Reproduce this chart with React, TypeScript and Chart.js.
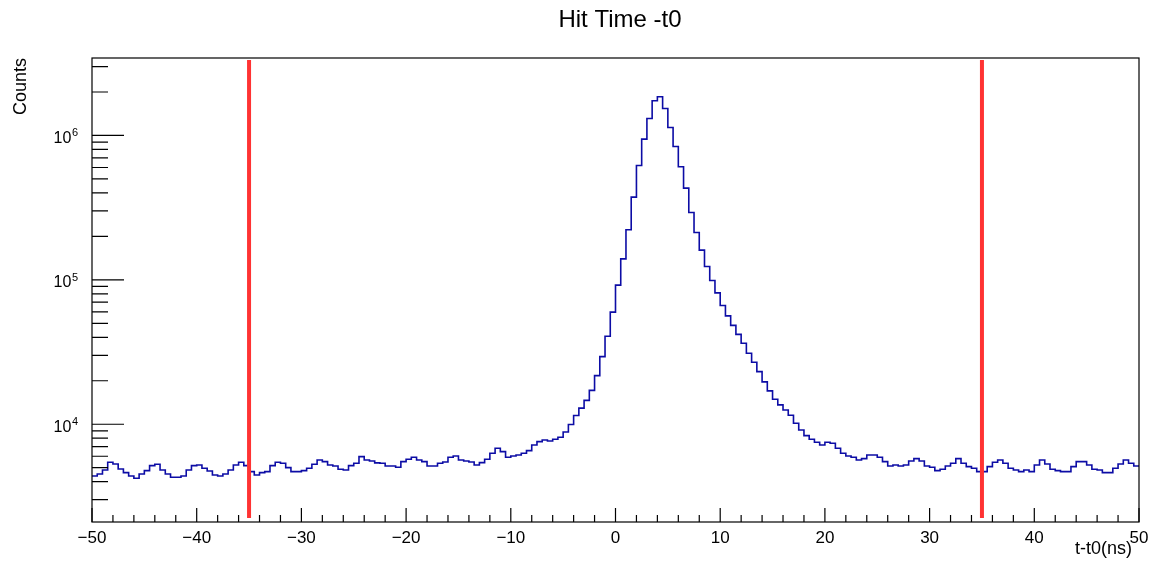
import React, { useEffect, useRef } from "react";
import { Chart, registerables } from "chart.js";

Chart.register(...registerables);

// Histogram binning (ns)
const binStart = -50;
const binWidth = 0.5;

// Counts per 0.5 ns bin, from -50 ns to +50 ns (200 bins)
const counts = [
  4383, 4522, 4822, 5452, 5306, 4900, 4620, 4383, 4222, 4522,
  4771, 5166, 5280, 4822, 4522, 4291, 4291, 4383, 4822, 5166,
  5223, 4956, 4747, 4452, 4383, 4522, 4822, 5223, 5452, 5166,
  4695, 4452, 4620, 4695, 5166, 5452, 5366, 5003, 4695, 4695,
  4771, 4956, 5280, 5657, 5505, 5223, 5141, 4877, 4822, 5166,
  5366, 5964, 5657, 5567, 5400, 5366, 5141, 5141, 5035, 5505,
  5721, 5903, 5657, 5505, 5141, 5141, 5366, 5478, 5903, 6031,
  5657, 5567, 5478, 5223, 5418, 5721, 6296, 6818, 6457, 5903,
  6031, 6127, 6296, 6565, 7187, 7577, 7785, 7660, 7872, 8126,
  8844, 9968, 11507, 12927, 14622, 17153, 21717, 29405, 40724, 59727,
  91893, 139830, 222070, 374200, 619500, 944100, 1312000, 1740000, 1854000, 1538000,
  1136000, 839000, 607000, 432000, 292700, 212700, 160700, 123700, 98900, 81260,
  66360, 56300, 48370, 41910, 36420, 31050, 26900, 23140, 19640, 17010,
  14900, 13610, 12560, 11540, 10160, 9131, 8337, 7872, 7502, 7187,
  7502, 7384, 6818, 6296, 6031, 5903, 5657, 5776, 6127, 6127,
  5903, 5505, 5141, 5223, 5141, 5223, 5567, 5776, 5567, 5141,
  5035, 4771, 4877, 5141, 5366, 5776, 5366, 5084, 4956, 4695,
  4695, 5084, 5452, 5657, 5366, 4956, 4822, 4695, 4822, 4695,
  5223, 5657, 5306, 4877, 4771, 4695, 4695, 5084, 5505, 5505,
  5223, 4877, 4822, 4620, 4620, 4956, 5306, 5657, 5366, 5141,
];

// Vertical cut markers (ns)
const cutLines = [-35, 35];

// Axis ticks
const xMajorTicks = [-50, -40, -30, -20, -10, 0, 10, 20, 30, 40, 50];
const xMinorStep = 2;
const yDecades = [1e3, 1e4, 1e5, 1e6];
const yDecadeLabels = [
  { base: "10", exp: "4", value: 1e4 },
  { base: "10", exp: "5", value: 1e5 },
  { base: "10", exp: "6", value: 1e6 },
];
const yMin = 2103;
const yMax = 3.44e6;
const xMin = -50;
const xMax = 50;

const titleText = "Hit Time -t0";
const xTitle = "t-t0(ns)";
const yTitle = "Counts";

const FONT = '"Liberation Sans", Arial, Helvetica, sans-serif';

const rootStylePlugin = {
  id: "rootStyle",
  afterDatasetsDraw(chart: any) {
    const { ctx, chartArea: a, scales } = chart;
    const xs = scales.x;
    const ys = scales.y;
    ctx.save();

    // red cut lines
    ctx.strokeStyle = "rgb(255,51,51)";
    ctx.lineWidth = 4;
    for (const c of cutLines) {
      const px = xs.getPixelForValue(c);
      ctx.beginPath();
      ctx.moveTo(px, a.top + 2);
      ctx.lineTo(px, a.bottom - 4);
      ctx.stroke();
    }

    // frame
    ctx.strokeStyle = "#000";
    ctx.lineWidth = 1.2;
    ctx.strokeRect(a.left, a.top, a.right - a.left, a.bottom - a.top);

    // x ticks
    ctx.lineWidth = 1.2;
    ctx.beginPath();
    for (let v = xMin; v <= xMax + 1e-9; v += xMinorStep) {
      const px = xs.getPixelForValue(v);
      const major = xMajorTicks.includes(Math.round(v));
      ctx.moveTo(px, a.bottom);
      ctx.lineTo(px, a.bottom - (major ? 14 : 7));
    }
    ctx.stroke();

    // y ticks
    ctx.beginPath();
    for (const d of yDecades) {
      for (let m = 1; m <= 9; m++) {
        const v = m * d;
        if (v < yMin || v > yMax) continue;
        const py = ys.getPixelForValue(v);
        ctx.moveTo(a.left, py);
        ctx.lineTo(a.left + (m === 1 ? 32 : 16), py);
      }
    }
    ctx.stroke();

    ctx.fillStyle = "#000";
    // x tick labels
    ctx.font = `17px ${FONT}`;
    ctx.textAlign = "center";
    ctx.textBaseline = "alphabetic";
    for (const v of xMajorTicks) {
      const px = xs.getPixelForValue(v);
      const label = v < 0 ? "\u2212" + Math.abs(v) : String(v);
      ctx.fillText(label, px, a.bottom + 21);
    }

    // y tick labels (10^n)
    for (const l of yDecadeLabels) {
      const py = ys.getPixelForValue(l.value);
      ctx.font = `11px ${FONT}`;
      ctx.textAlign = "right";
      const ew = ctx.measureText(l.exp).width;
      ctx.fillText(l.exp, 78, py + 1);
      ctx.font = `16px ${FONT}`;
      ctx.fillText(l.base, 78 - ew - 0.5, py + 7.6);
    }

    // axis titles
    ctx.font = `18px ${FONT}`;
    ctx.textAlign = "right";
    ctx.fillText(xTitle, 1132, 554);

    ctx.save();
    ctx.translate(26, a.top);
    ctx.rotate(-Math.PI / 2);
    ctx.textAlign = "right";
    ctx.fillText(yTitle, 0, 0);
    ctx.restore();

    // title
    ctx.font = `24px ${FONT}`;
    ctx.textAlign = "center";
    ctx.fillText(titleText, 620, 27);

    ctx.restore();
  },
};

export default function App() {
  const canvasRef = useRef<HTMLCanvasElement | null>(null);

  useEffect(() => {
    const canvas = canvasRef.current;
    if (!canvas) return;
    const points = counts.map((c, i) => ({ x: binStart + i * binWidth, y: c }));
    points.push({ x: binStart + counts.length * binWidth, y: counts[counts.length - 1] });

    const chart = new Chart(canvas, {
      type: "line",
      data: {
        datasets: [
          {
            data: points,
            stepped: "before",
            borderColor: "rgb(12,12,165)",
            borderWidth: 1.6,
            pointRadius: 0,
            fill: false,
            tension: 0,
          },
        ],
      },
      options: {
        animation: false,
        responsive: false,
        devicePixelRatio: 1,
        layout: { padding: { left: 92, top: 58, right: 11, bottom: 43 } },
        plugins: {
          legend: { display: false },
          tooltip: { enabled: false },
          title: { display: false },
        },
        scales: {
          x: { type: "linear", min: xMin, max: xMax, display: false },
          y: { type: "logarithmic", min: yMin, max: yMax, display: false },
        },
      },
      plugins: [rootStylePlugin],
    } as any);
    return () => chart.destroy();
  }, []);

  return (
    <div style={{ position: "fixed", left: 0, top: 0, width: 1150, height: 565, background: "#fff" }}>
      <canvas ref={canvasRef} width={1150} height={565} style={{ display: "block" }} />
    </div>
  );
}
